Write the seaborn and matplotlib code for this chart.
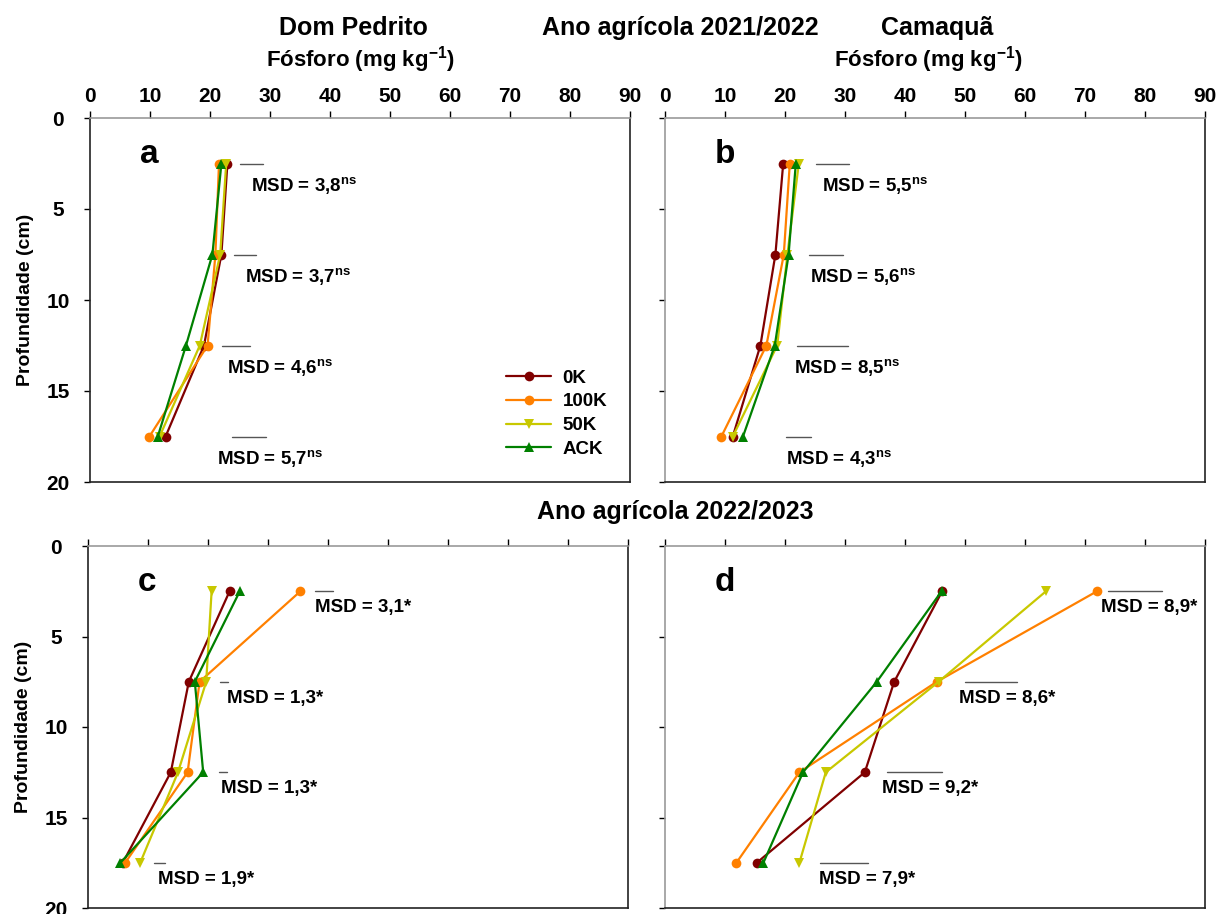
import numpy as np
import pandas as pd
import matplotlib
matplotlib.use('Agg')
import matplotlib.pyplot as plt
import seaborn as sns

# style first, fonts after (set_style resets font.family)
sns.set_style('ticks')
plt.rcParams['font.family'] = ['Liberation Sans', 'DejaVu Sans']
plt.rcParams['font.weight'] = 'bold'
plt.rcParams['axes.labelweight'] = 'bold'
plt.rcParams['mathtext.default'] = 'regular'
for key in ['text.color', 'axes.labelcolor', 'xtick.color', 'ytick.color']:
    plt.rcParams[key] = 'black'

# data
depth = [2.5, 7.5, 12.5, 17.5]
trats = ['0K', '100K', '50K', 'ACK']

# a - Dom Pedrito 2021/2022
dp21_0k = [22.9, 21.9, 19.0, 12.6]
dp21_100k = [21.5, 20.9, 19.6, 9.9]
dp21_50k = [22.7, 21.7, 18.3, 11.6]
dp21_ack = [21.9, 20.4, 16.0, 11.3]
# b - Camaqua 2021/2022
cq21_0k = [19.7, 18.4, 15.9, 11.3]
cq21_100k = [20.8, 19.8, 16.9, 9.4]
cq21_50k = [22.3, 20.4, 18.7, 11.3]
cq21_ack = [21.8, 20.6, 18.3, 13.0]
# c - Dom Pedrito 2022/2023
dp22_0k = [23.6, 16.8, 13.8, 5.8]
dp22_100k = [35.4, 18.6, 16.6, 6.2]
dp22_50k = [20.6, 19.7, 15.0, 8.7]
dp22_ack = [25.3, 17.8, 19.2, 5.4]
# d - Camaqua 2022/2023
cq22_0k = [46.2, 38.2, 33.3, 15.3]
cq22_100k = [72.0, 45.3, 22.4, 11.9]
cq22_50k = [63.5, 45.6, 26.8, 22.4]
cq22_ack = [46.1, 35.3, 23.0, 16.4]

# minimum significant difference per layer
msd_a = [3.8, 3.7, 4.6, 5.7]
msd_b = [5.5, 5.6, 8.5, 4.3]
msd_c = [3.1, 1.3, 1.3, 1.9]
msd_d = [8.9, 8.6, 9.2, 7.9]
sig_a = sig_b = 'ns'
sig_c = sig_d = '*'

colors = {'0K': '#800000', '100K': '#ff8000', '50K': '#c8c800', 'ACK': '#008000'}
markers = {'0K': 'o', '100K': 'o', '50K': 'v', 'ACK': '^'}


def long_df(s0, s100, s50, sack):
    rows = []
    for name, vals in zip(trats, [s0, s100, s50, sack]):
        for d, v in zip(depth, vals):
            rows.append({'trat': name, 'depth': d, 'P': v})
    return pd.DataFrame(rows)


fig = plt.figure(figsize=(12.2, 9.14), dpi=100)
W, H = 1220, 914
ax_a = fig.add_axes([90 / W, 1 - 482 / H, 540 / W, 364 / H])
ax_b = fig.add_axes([665 / W, 1 - 482 / H, 540 / W, 364 / H])
ax_c = fig.add_axes([88 / W, 1 - 908 / H, 540 / W, 362 / H])
ax_d = fig.add_axes([665 / W, 1 - 908 / H, 540 / W, 362 / H])

panels = [
    (ax_a, long_df(dp21_0k, dp21_100k, dp21_50k, dp21_ack), 'a', msd_a, sig_a, True, True,
     [25.0, 24.0, 22.0, 23.6], [26.8, 25.8, 22.9, 21.2], 1.2),
    (ax_b, long_df(cq21_0k, cq21_100k, cq21_50k, cq21_ack), 'b', msd_b, sig_b, True, False,
     [25.1, 24.0, 22.0, 20.1], [26.2, 24.1, 21.5, 20.2], 1.2),
    (ax_c, long_df(dp22_0k, dp22_100k, dp22_50k, dp22_ack), 'c', msd_c, sig_c, False, True,
     [37.8, 22.0, 21.8, 11.0], [37.9, 23.2, 22.1, 11.7], 0.9),
    (ax_d, long_df(cq22_0k, cq22_100k, cq22_50k, cq22_ack), 'd', msd_d, sig_d, False, False,
     [73.9, 50.0, 37.0, 25.9], [72.7, 49.0, 36.2, 25.6], 0.9),
]

for ax, df, letter, msd, sig, top_row, left_col, line_x, text_x, dy in panels:
    sns.lineplot(data=df, x='P', y='depth', hue='trat', style='trat',
                 hue_order=trats, style_order=trats, palette=colors,
                 markers=markers, dashes=False, sort=False, estimator=None,
                 lw=1.6, markersize=7, markeredgewidth=0,
                 legend=(letter == 'a'), ax=ax)
    ax.set_xlim(0, 90)
    ax.set_ylim(20, 0)
    ax.set_xticks(np.arange(0, 91, 10))
    ax.set_yticks([0, 5, 10, 15, 20])
    ax.set_xlabel('')
    ax.set_ylabel('Profundidade (cm)' if left_col else '', fontsize=14, labelpad=9)
    ax.xaxis.set_ticks_position('top')
    ax.tick_params(axis='x', top=True, bottom=False, labeltop=top_row, labelbottom=False,
                   direction='out', length=5, width=1, labelsize=15, pad=4)
    ax.tick_params(axis='y', left=True, labelleft=left_col, direction='out',
                   length=4, width=1, labelsize=15, pad=19)
    for lab in ax.get_yticklabels():
        lab.set_horizontalalignment('center')
    for side in ['top', 'left', 'right', 'bottom']:
        ax.spines[side].set_visible(True)
        ax.spines[side].set_linewidth(1.2)
    ax.spines['top'].set_color('#9a9a9a')
    ax.spines['left'].set_color('#222222' if left_col else '#9a9a9a')
    ax.spines['right'].set_color('#222222')
    ax.spines['bottom'].set_color('#222222')

    ax.text(8.3, 2.0, letter, fontsize=24, fontweight='bold', va='center', ha='left')

    for d, m, x0, tx in zip(depth, msd, line_x, text_x):
        ax.plot([x0, x0 + m], [d, d], color='#555555', lw=1)
        label = f'MSD = {m:.1f}'.replace('.', ',')
        if sig == 'ns':
            label += r'$^{ns}$'
        else:
            label += '*'
        ax.text(tx, d + dy, label, fontsize=13.5, fontweight='bold', va='center', ha='left')

sns.move_legend(ax_a, 'upper left', bbox_to_anchor=(0.74, 0.355), frameon=False,
                title=None, fontsize=13.5, handlelength=2.4, labelspacing=0.35,
                handletextpad=0.6)

fig.text(353 / W, 1 - 28 / H, 'Dom Pedrito', fontsize=18, fontweight='bold', ha='center', va='center')
fig.text(680 / W, 1 - 28 / H, 'Ano agrícola 2021/2022', fontsize=18, fontweight='bold', ha='center', va='center')
fig.text(937 / W, 1 - 28 / H, 'Camaquã', fontsize=18, fontweight='bold', ha='center', va='center')
fig.text(360 / W, 1 - 60 / H, r'Fósforo (mg kg$^{-1}$)', fontsize=16, fontweight='bold', ha='center', va='center')
fig.text(928 / W, 1 - 60 / H, r'Fósforo (mg kg$^{-1}$)', fontsize=16, fontweight='bold', ha='center', va='center')
fig.text(675 / W, 1 - 512 / H, 'Ano agrícola 2022/2023', fontsize=18, fontweight='bold', ha='center', va='center')

fig.savefig('out.png', dpi=100)
